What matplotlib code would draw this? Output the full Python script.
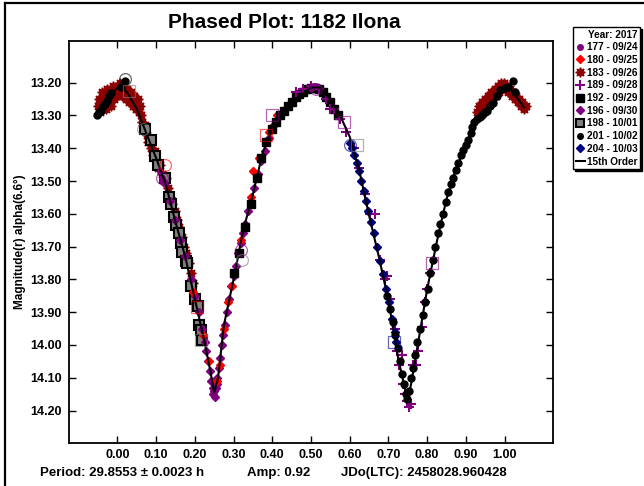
import matplotlib
matplotlib.use('Agg')
import matplotlib.pyplot as plt
from matplotlib.lines import Line2D

plt.rcParams['font.family'] = ['Liberation Sans', 'DejaVu Sans']
plt.rcParams['font.weight'] = 'bold'

# session labels (day of year - date)
labels = ['177 - 09/24', '180 - 09/25', '183 - 09/26', '189 - 09/28', '192 - 09/29',
          '196 - 09/30', '198 - 10/01', '201 - 10/02', '204 - 10/03']

# phase / magnitude per session
s177_phase = [0.110, 0.116, 0.124, 0.500, 0.508]
s177_mag = [13.47, 13.49, 13.51, 13.215, 13.21]

s180_phase = [0.195, 0.222, 0.236, 0.257, 0.266, 0.276, 0.285, 0.296, 0.320, 0.345,
              0.351, 0.366, 0.392, 0.398, 0.412]
s180_mag = [13.84, 13.97, 14.05, 14.11, 14.06, 13.95, 13.87, 13.82, 13.68, 13.55,
            13.47, 13.43, 13.35, 13.335, 13.30]

s183_phase = [-0.050, -0.047, -0.044, -0.041, -0.038, -0.035, -0.032, -0.029, -0.026, -0.023,
              -0.020, -0.017, -0.014, -0.011, -0.008, -0.005, -0.002, 0.001, 0.004, 0.007,
              0.010, 0.013, 0.016, 0.019, 0.022, 0.025, 0.028, 0.031, 0.034, 0.037,
              0.040, 0.043, 0.046, 0.049, 0.052, 0.055, 0.058, 0.061, 0.064, 0.068,
              0.072, 0.076, 0.080, 0.084, 0.088, 0.092, 0.096, 0.100, 0.105, 0.110,
              0.115, 0.120, 0.125, 0.130, 0.136, 0.142, 0.148, 0.154, 0.160, 0.166,
              0.172, 0.178, 0.184, 0.190, 0.196,
              0.930, 0.934, 0.938, 0.942, 0.946, 0.950, 0.954, 0.958, 0.962, 0.966,
              0.970, 0.974, 0.978, 0.982, 0.986, 0.990, 0.994, 0.998, 1.002, 1.006,
              1.010, 1.014, 1.018, 1.022, 1.026, 1.030, 1.034, 1.038, 1.042, 1.046,
              1.050, 1.054]
s183_mag = [13.27, 13.25, 13.29, 13.23, 13.27, 13.26, 13.24, 13.28, 13.22, 13.25,
            13.23, 13.27, 13.24, 13.21, 13.25, 13.22, 13.24, 13.21, 13.23, 13.20,
            13.22, 13.24, 13.21, 13.23, 13.25, 13.22, 13.24, 13.26, 13.23, 13.25,
            13.27, 13.24, 13.26, 13.28, 13.25, 13.29, 13.27, 13.30, 13.32, 13.34,
            13.33, 13.36, 13.38, 13.37, 13.40, 13.42, 13.41, 13.44, 13.46, 13.45,
            13.48, 13.50, 13.49, 13.52, 13.55, 13.57, 13.59, 13.62, 13.64, 13.67,
            13.70, 13.72, 13.75, 13.78, 13.81,
            13.29, 13.27, 13.30, 13.26, 13.28, 13.25, 13.27, 13.24, 13.26, 13.23,
            13.25, 13.22, 13.24, 13.21, 13.23, 13.20, 13.22, 13.20, 13.22, 13.21,
            13.23, 13.22, 13.24, 13.23, 13.25, 13.24, 13.26, 13.25, 13.27, 13.26,
            13.28, 13.27]

s189_phase = [0.460, 0.480, 0.500, 0.520, 0.540, 0.548, 0.560, 0.575, 0.590, 0.610,
              0.625, 0.640, 0.652, 0.666, 0.678, 0.690, 0.697, 0.705, 0.716, 0.722,
              0.728, 0.735, 0.738, 0.744, 0.748, 0.752, 0.757, 0.764, 0.770, 0.777,
              0.787, 0.795, 0.800, 0.808]
s189_mag = [13.23, 13.22, 13.21, 13.22, 13.25, 13.28, 13.28, 13.31, 13.35, 13.40,
            13.46, 13.54, 13.60, 13.60, 13.74, 13.80, 13.79, 13.86, 13.95, 14.02,
            14.06, 14.03, 14.12, 14.15, 14.17, 14.19, 14.18, 14.06, 14.06, 14.02,
            13.945, 13.87, 13.83, 13.78]

s192_phase = [0.300, 0.315, 0.330, 0.345, 0.360, 0.372, 0.385, 0.398, 0.410, 0.420,
              0.430, 0.440, 0.450, 0.460, 0.470, 0.480, 0.490, 0.500, 0.510, 0.520,
              0.530, 0.540, 0.550, 0.560, 0.570]
s192_mag = [13.78, 13.72, 13.64, 13.57, 13.49, 13.43, 13.38, 13.34, 13.32, 13.30,
            13.285, 13.27, 13.26, 13.245, 13.235, 13.23, 13.22, 13.215, 13.215, 13.22,
            13.23, 13.245, 13.26, 13.28, 13.30]

s196_phase = [0.118, 0.135, 0.150, 0.162, 0.175, 0.190, 0.200, 0.210, 0.218, 0.225,
              0.230, 0.235, 0.240, 0.243, 0.246, 0.248, 0.250, 0.252, 0.254, 0.256,
              0.258, 0.262, 0.266, 0.270, 0.274, 0.278, 0.283, 0.288, 0.294, 0.300,
              0.306, 0.312, 0.318, 0.324, 0.330, 0.338, 0.346, 0.354, 0.362, 0.370,
              0.380, 0.392, 0.405]
s196_mag = [13.50, 13.56, 13.62, 13.68, 13.73, 13.80, 13.85, 13.90, 13.95, 13.99,
            14.02, 14.05, 14.08, 14.11, 14.13, 14.15, 14.14, 14.16, 14.13, 14.12,
            14.10, 14.07, 14.04, 14.00, 13.97, 13.94, 13.90, 13.86, 13.82, 13.79,
            13.76, 13.72, 13.69, 13.66, 13.63, 13.59, 13.56, 13.52, 13.48, 13.44,
            13.41, 13.37, 13.33]

s198_phase = [0.070, 0.086, 0.096, 0.106, 0.122, 0.132, 0.138, 0.145, 0.152, 0.158,
              0.164, 0.168, 0.176, 0.181, 0.189, 0.200, 0.207, 0.212, 0.215, 0.218]
s198_mag = [13.34, 13.375, 13.425, 13.45, 13.49, 13.55, 13.57, 13.61, 13.635, 13.66,
            13.69, 13.716, 13.745, 13.75, 13.82, 13.86, 13.88, 13.94, 13.955, 13.985]

s201_phase = [-0.052, -0.047, -0.043, -0.038, -0.033, -0.028, -0.022, -0.017, 0.009, 0.019,
              0.695, 0.705, 0.712, 0.718, 0.724, 0.730, 0.735, 0.740, 0.745, 0.749,
              0.754, 0.758, 0.763, 0.769, 0.775, 0.782, 0.788, 0.795, 0.801, 0.808,
              0.815, 0.821, 0.828, 0.834, 0.841, 0.848, 0.854, 0.861, 0.867, 0.874,
              0.880, 0.887, 0.893, 0.900, 0.906, 0.912, 0.916, 0.922, 0.929, 0.936,
              0.943, 0.949, 0.955, 0.962, 0.970, 0.980, 0.988, 1.001, 1.009, 1.021,
              1.026]
s201_mag = [13.30, 13.29, 13.285, 13.27, 13.265, 13.255, 13.24, 13.232, 13.213, 13.195,
            13.85, 13.89, 13.93, 13.97, 14.01, 14.05, 14.09, 14.12, 14.15, 14.165,
            14.14, 14.10, 14.07, 14.03, 13.99, 13.95, 13.91, 13.87, 13.83, 13.78,
            13.74, 13.70, 13.66, 13.63, 13.60, 13.565, 13.535, 13.51, 13.49, 13.465,
            13.445, 13.42, 13.405, 13.39, 13.375, 13.355, 13.335, 13.32, 13.31, 13.305,
            13.295, 13.29, 13.285, 13.27, 13.262, 13.24, 13.222, 13.216, 13.213, 13.195,
            13.228]

s204_phase = [0.600, 0.606, 0.612, 0.618, 0.624, 0.630, 0.636, 0.642, 0.648, 0.655,
              0.662, 0.670, 0.678, 0.686, 0.694, 0.702, 0.710, 0.716, 0.720]
s204_mag = [13.385, 13.40, 13.42, 13.445, 13.47, 13.50, 13.53, 13.56, 13.59, 13.625,
            13.66, 13.70, 13.745, 13.785, 13.83, 13.87, 13.92, 13.96, 13.99]

# open circles / open squares drawn round a few points
ring_phase = [0.019, 0.065, 0.122, 0.114, 0.318, 0.322, 0.514, 0.601]
ring_mag = [13.19, 13.34, 13.45, 13.49, 13.71, 13.74, 13.22, 13.39]
ring_session = ['201', '198', '180', '196', '196', '198', '177', '204']

box_phase = [0.030, 0.205, 0.216, 0.385, 0.400, 0.586, 0.620, 0.715, 0.813]
box_mag = [13.225, 13.885, 13.985, 13.36, 13.30, 13.32, 13.39, 13.99, 13.75]
box_session = ['198', '180', '198', '180', '189', '189', '198', '204', '189']

# 15th order Fourier fit
fit_phase = [-0.050, -0.025, 0.000, 0.010, 0.025, 0.050, 0.075, 0.100, 0.125, 0.150,
             0.175, 0.200, 0.225, 0.240, 0.250, 0.260, 0.275, 0.300, 0.325, 0.350,
             0.375, 0.400, 0.425, 0.450, 0.475, 0.500, 0.525, 0.550, 0.575, 0.600,
             0.625, 0.650, 0.675, 0.700, 0.725, 0.740, 0.750, 0.760, 0.775, 0.800,
             0.825, 0.850, 0.875, 0.900, 0.925, 0.950, 0.975, 1.000, 1.010, 1.025,
             1.050]
fit_mag = [13.295, 13.25, 13.215, 13.213, 13.23, 13.28, 13.355, 13.43, 13.51, 13.625,
           13.73, 13.86, 13.99, 14.08, 14.145, 14.10, 13.94, 13.80, 13.65, 13.54,
           13.415, 13.34, 13.30, 13.265, 13.237, 13.215, 13.215, 13.253, 13.30, 13.365,
           13.47, 13.605, 13.73, 13.865, 14.04, 14.12, 14.17, 14.11, 14.005, 13.83,
           13.685, 13.555, 13.46, 13.39, 13.32, 13.29, 13.25, 13.215, 13.213, 13.235,
           13.275]

ses_color = {'177': '#800080', '180': '#ff0000', '183': '#8b0000', '189': '#800080',
             '192': '#000000', '196': '#800080', '198': '#808080', '201': '#000000',
             '204': '#000080'}

fig = plt.figure(figsize=(6.44, 4.86), dpi=100)
ax = fig.add_axes([69 / 644, 1 - 443.3 / 486, 484 / 644, 402.3 / 486])

burst = (8, 1, 0)
ax.plot(s183_phase, s183_mag, ls='none', marker=burst, ms=7, color='#8b0000', mec='#8b0000', zorder=2)
ax.plot(s198_phase, s198_mag, ls='none', marker='s', ms=6.5, mfc='#808080', mec='black', mew=1.5, zorder=3)
ax.plot(s196_phase, s196_mag, ls='none', marker='D', ms=4, color='#800080', zorder=3)
ax.plot(s180_phase, s180_mag, ls='none', marker='D', ms=4, color='#ff0000', zorder=3)
ax.plot(s192_phase, s192_mag, ls='none', marker='s', ms=6, color='black', zorder=3)
ax.plot(s189_phase, s189_mag, ls='none', marker='+', ms=7, mew=1.5, color='#800080', zorder=3)
ax.plot(s204_phase, s204_mag, ls='none', marker='D', ms=4, color='#000080', zorder=3)
ax.plot(s201_phase, s201_mag, ls='none', marker='o', ms=5, color='black', zorder=3)
ax.plot(s177_phase, s177_mag, ls='none', marker='o', ms=4, color='#800080', zorder=3)
ax.plot(fit_phase, fit_mag, color='black', lw=1.5, zorder=4)

for p, m, s in zip(ring_phase, ring_mag, ring_session):
    ax.plot(p, m, marker='o', ms=8.5, mfc='none', mec=ses_color[s], mew=0.9, alpha=0.6, zorder=5)
for p, m, s in zip(box_phase, box_mag, box_session):
    ax.plot(p, m, marker='s', ms=8.5, mfc='none', mec=ses_color[s], mew=0.9, alpha=0.6, zorder=5)

ax.set_xlim(-0.125, 1.125)
ax.set_ylim(14.30, 13.073)
ax.set_xticks([i / 10 for i in range(11)])
ax.set_yticks([13.2 + i / 10 for i in range(11)])
ax.xaxis.set_major_formatter(matplotlib.ticker.FormatStrFormatter('%.2f'))
ax.yaxis.set_major_formatter(matplotlib.ticker.FormatStrFormatter('%.2f'))
ax.tick_params(axis='both', direction='in', length=5, width=1, labelsize=9)
ax.tick_params(axis='x', top=True, pad=4)
ax.tick_params(axis='y', right=True, pad=5)
for t in ax.yaxis.get_ticklines()[1::2]:
    t.set_color('#808080')
for sp in ax.spines.values():
    sp.set_linewidth(1.3)
for lab in ax.get_xticklabels() + ax.get_yticklabels():
    lab.set_fontweight('bold')

ax.set_ylabel('Magnitude(r) alpha(6.6°)', fontsize=8.5, fontweight='bold', labelpad=3)

fig.text(284.5 / 644, 1 - 22 / 486, 'Phased Plot: 1182 Ilona', ha='center', va='center',
         fontsize=15, fontweight='bold')
fig.text(40 / 644, 1 - 473 / 486, 'Period: 29.8553 ± 0.0023 h', ha='left', va='center',
         fontsize=9.5, fontweight='bold')
fig.text(247 / 644, 1 - 473 / 486, 'Amp: 0.92', ha='left', va='center',
         fontsize=9.5, fontweight='bold')
fig.text(341 / 644, 1 - 473 / 486, 'JDo(LTC): 2458028.960428', ha='left', va='center',
         fontsize=9.5, fontweight='bold')

# outer frame
fig.add_artist(Line2D([5 / 644, 5 / 644], [0, 1 - 3 / 486], color='black', lw=1.6))
fig.add_artist(Line2D([5 / 644, 1], [1 - 3 / 486, 1 - 3 / 486], color='black', lw=1.6))

handles = [
    Line2D([], [], ls='none', marker='o', ms=4, color='#800080'),
    Line2D([], [], ls='none', marker='D', ms=4, color='#ff0000'),
    Line2D([], [], ls='none', marker=burst, ms=7, color='#8b0000'),
    Line2D([], [], ls='none', marker='+', ms=7, mew=1.5, color='#800080'),
    Line2D([], [], ls='none', marker='s', ms=5.5, color='black'),
    Line2D([], [], ls='none', marker='D', ms=4, color='#800080'),
    Line2D([], [], ls='none', marker='s', ms=5.5, mfc='#808080', mec='black', mew=1.5),
    Line2D([], [], ls='none', marker='o', ms=4, color='black'),
    Line2D([], [], ls='none', marker='D', ms=4, color='#000080'),
    Line2D([], [], color='black', lw=1.5),
]
leg = fig.legend(handles, labels + ['15th Order'], title='Year: 2017', loc='upper left',
                 bbox_to_anchor=(573 / 644, 1 - 27 / 486), prop={'size': 7.2, 'weight': 'bold'},
                 title_fontproperties={'size': 7.2, 'weight': 'bold'}, alignment='right',
                 handlelength=0.9, handletextpad=0.25, labelspacing=0.27, borderpad=0.25,
                 borderaxespad=0, fancybox=False, edgecolor='black', framealpha=1,
                 shadow={'color': 'black', 'alpha': 1, 'ox': 1.5, 'oy': -1.5})
leg.get_frame().set_linewidth(1.0)

fig.savefig('out.png', dpi=100)
